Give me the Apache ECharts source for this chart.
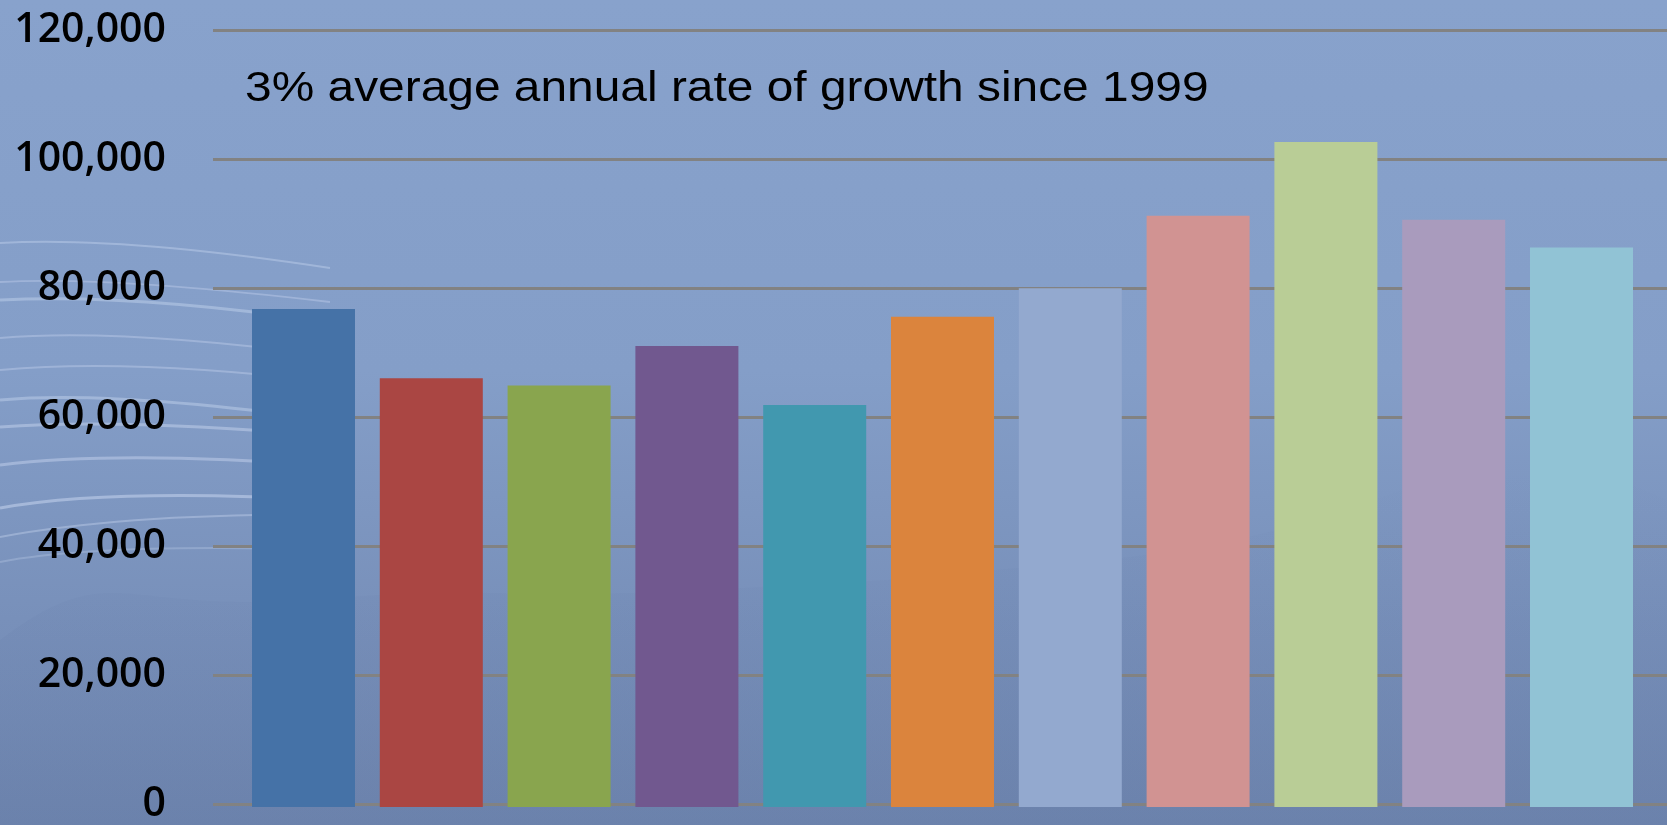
<!DOCTYPE html>
<html>
<head>
<meta charset="utf-8">
<title>Annual growth</title>
<script src="https://cdn.jsdelivr.net/npm/echarts@6/dist/echarts.min.js"></script>
<style>
  html, body { margin: 0; padding: 0; }
  #chart { width: 1667px; height: 825px; }
</style>
</head>
<body>
<div id="chart"></div>
<script>
// Yearly totals, 1999 through 2009
const years = ['1999', '2000', '2001', '2002', '2003', '2004', '2005', '2006', '2007', '2008', '2009'];
const totals = [76900, 66200, 65100, 71200, 62100, 75700, 80100, 91300, 102700, 90700, 86400];
const barColors = ['#4572A7', '#AA4643', '#89A54E', '#71588F', '#4198AF', '#DB843D',
                   '#93A9CF', '#D19392', '#B9CD96', '#A99BBD', '#91C3D5'];
const yTicks = { min: 0, max: 120000, interval: 20000 };
const note = '3% average annual rate of growth since 1999';

const chart = echarts.init(document.getElementById('chart'), null, { renderer: 'canvas' });

// soft white streaks sweeping in from the left edge of the backdrop
const streaks = [];
const streakPaths = [
  [0, 243, 120, 236, 330, 268, 0.30, 2],
  [0, 282, 110, 276, 330, 302, 0.28, 2],
  [0, 300, 130, 293, 330, 322, 0.32, 3],
  [0, 338, 120, 328, 330, 356, 0.28, 2],
  [0, 370, 130, 358, 330, 382, 0.28, 2],
  [0, 400, 110, 390, 330, 420, 0.32, 3],
  [0, 427, 120, 418, 330, 436, 0.35, 3],
  [0, 465, 120, 450, 330, 466, 0.35, 3],
  [0, 508, 110, 488, 330, 500, 0.40, 3],
  [0, 537, 130, 513, 330, 515, 0.30, 2],
  [0, 562, 100, 543, 330, 550, 0.22, 2]
];
streakPaths.forEach(function (p) {
  streaks.push({
    type: 'bezierCurve',
    silent: true,
    z: -10,
    shape: { x1: p[0], y1: p[1], cpx1: p[2], cpy1: p[3], x2: p[4], y2: p[5] },
    style: { stroke: 'rgba(225,235,255,' + p[6] + ')', lineWidth: p[7], fill: null }
  });
});

// darker swell across the lower part of the backdrop
const swell = {
  type: 'polygon',
  silent: true,
  z: -11,
  shape: {
    smooth: 0.6,
    points: [[0, 640], [300, 600], [700, 590], [1100, 560], [1667, 500], [1667, 825], [0, 825]]
  },
  style: {
    fill: {
      type: 'linear', x: 0, y: 0, x2: 0, y2: 1,
      colorStops: [
        { offset: 0, color: 'rgba(60,80,130,0)' },
        { offset: 1, color: 'rgba(60,80,130,0.12)' }
      ]
    }
  }
};

const option = {
  animation: false,
  backgroundColor: {
    type: 'linear', x: 0, y: 0, x2: 0, y2: 1,
    colorStops: [
      { offset: 0, color: '#88A2CC' },
      { offset: 0.45, color: '#849EC8' },
      { offset: 0.75, color: '#7890BA' },
      { offset: 1, color: '#7087B0' }
    ]
  },
  graphic: streaks.concat([swell, {
    type: 'text',
    x: 245,
    y: 68,
    scaleX: 1.14,
    z: 100,
    style: {
      text: note,
      fill: '#000000',
      font: '42px "Liberation Sans", Arial, sans-serif'
    }
  }]),
  grid: [
    { left: 213, right: 0, top: 30, bottom: 18 },
    { left: 239.6, right: 21.6, top: 30, bottom: 18 }
  ],
  xAxis: [
    { type: 'value', gridIndex: 0, min: 0, max: 1, show: false },
    {
      type: 'category', gridIndex: 1, data: years, boundaryGap: true,
      axisLine: { show: false }, axisTick: { show: false }, axisLabel: { show: false }
    }
  ],
  yAxis: [
    {
      type: 'value', gridIndex: 0,
      min: yTicks.min, max: yTicks.max, interval: yTicks.interval,
      axisLine: { show: false }, axisTick: { show: false },
      splitLine: { show: true, lineStyle: { color: '#828282', width: 3 } },
      axisLabel: {
        color: '#000000',
        fontFamily: '"Open Sans", sans-serif',
        fontSize: 41,
        fontWeight: 600,
        margin: 47,
        formatter: function (v) { return v.toLocaleString('en-US'); }
      }
    },
    {
      type: 'value', gridIndex: 1,
      min: yTicks.min, max: yTicks.max, interval: yTicks.interval,
      show: false, splitLine: { show: false }
    }
  ],
  series: [{
    type: 'bar',
    xAxisIndex: 1,
    yAxisIndex: 1,
    barWidth: 103,
    data: totals.map(function (v, i) {
      return { value: v, itemStyle: { color: barColors[i] } };
    })
  }]
};

chart.setOption(option);
</script>
</body>
</html>
